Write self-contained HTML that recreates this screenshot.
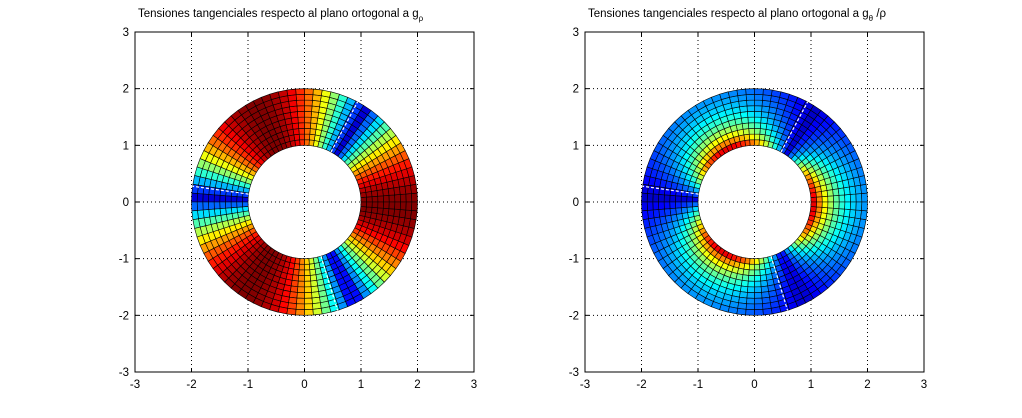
<!DOCTYPE html>
<html><head><meta charset="utf-8"><style>
html,body{margin:0;padding:0;background:#fff;}
svg{display:block;font-family:"Liberation Sans",Arial,sans-serif;}
</style></head><body>
<svg id="s" width="1022" height="418" viewBox="0 0 1022 418" xmlns="http://www.w3.org/2000/svg">
<rect width="1022" height="418" fill="#fff"/>
<g id="L"></g><g id="R"></g>
<text x="138" y="17" font-size="11.5">Tensiones tangenciales respecto al plano ortogonal a g<tspan font-size="8" dy="4">ρ</tspan></text>
<text x="588" y="17" font-size="11.5">Tensiones tangenciales respecto al plano ortogonal a g<tspan font-size="8" dy="4">θ</tspan><tspan dy="-4"> /ρ</tspan></text>
</svg>
<script>
function jet(v){v=Math.max(0,Math.min(1,v));
function c(x){return Math.max(0,Math.min(1,1.5-Math.abs(4*v-x)));}
return 'rgb('+Math.round(255*c(3))+','+Math.round(255*c(2))+','+Math.round(255*c(1))+')';}
var NS="http://www.w3.org/2000/svg";
function el(p,t,a){var e=document.createElementNS(NS,t);for(var k in a)e.setAttribute(k,a[k]);p.appendChild(e);return e;}
function axes(g,x0,right){
 var x1=x0+339,y0=32,y1=372,cx=(x0+x1)/2,cy=202,sx=339/6,sy=340/6;
 for(var i=-3;i<=3;i++){
  var x=cx+i*sx,y=cy-i*sy;
  if(i>-3&&i<3){el(g,'line',{x1:x,y1:y0,x2:x,y2:y1,stroke:'#000','stroke-width':1,'stroke-dasharray':'1,3'});
  el(g,'line',{x1:x0,y1:y,x2:x1,y2:y,stroke:'#000','stroke-width':1,'stroke-dasharray':'1,3'});}
  var t=el(g,'text',{x:x,y:388,'font-size':11.5,'text-anchor':'middle'});t.textContent=i;
  var t2=el(g,'text',{x:x0-6,y:y+4,'font-size':11.5,'text-anchor':'end'});t2.textContent=i;
  el(g,'line',{x1:x,y1:y1,x2:x,y2:y1-4,stroke:'#000'});el(g,'line',{x1:x,y1:y0,x2:x,y2:y0+4,stroke:'#000'});
  el(g,'line',{x1:x0,y1:y,x2:x0+4,y2:y,stroke:'#000'});el(g,'line',{x1:x1,y1:y,x2:x1-4,y2:y,stroke:'#000'});
 }
 var NA=80,NR=10;
 for(var a=0;a<NA;a++)for(var r=0;r<NR;r++){
  var t0=a*2*Math.PI/NA,t1=(a+1)*2*Math.PI/NA,r0=1+r/NR,r1=1+(r+1)/NR;
  var tm=(t0+t1)/2,rm=(r0+r1)/2;
  var ph=tm-(-3*Math.PI/180);
  var v;
  if(right){var gth=Math.pow(Math.abs(Math.cos(1.5*ph)),0.8);v=0.06+0.93*gth*Math.pow(rm,-2.2);}
  else {v=0.05+0.95*Math.pow(Math.abs(Math.cos(1.5*ph)),0.85);}
  var pts=[[r0,t0],[r1,t0],[r1,t1],[r0,t1]].map(function(p){return (cx+p[0]*sx*Math.cos(p[1])).toFixed(2)+','+(cy-p[0]*sy*Math.sin(p[1])).toFixed(2);}).join(' ');
  el(g,'polygon',{points:pts,fill:jet(v),stroke:'#000','stroke-width':0.6});
 }
 [62,172,287].forEach(function(d){var t=d*Math.PI/180;
  el(g,'line',{x1:cx+sx*Math.cos(t),y1:cy-sy*Math.sin(t),x2:cx+2*sx*Math.cos(t),y2:cy-2*sy*Math.sin(t),stroke:'#fff','stroke-width':1.2,'stroke-dasharray':'3,2'});});
 el(g,'rect',{x:x0,y:y0,width:339,height:340,fill:'none',stroke:'#000','stroke-width':1});
}
axes(document.getElementById('L'),135,false);
axes(document.getElementById('R'),585,true);
</script>
</body></html>
